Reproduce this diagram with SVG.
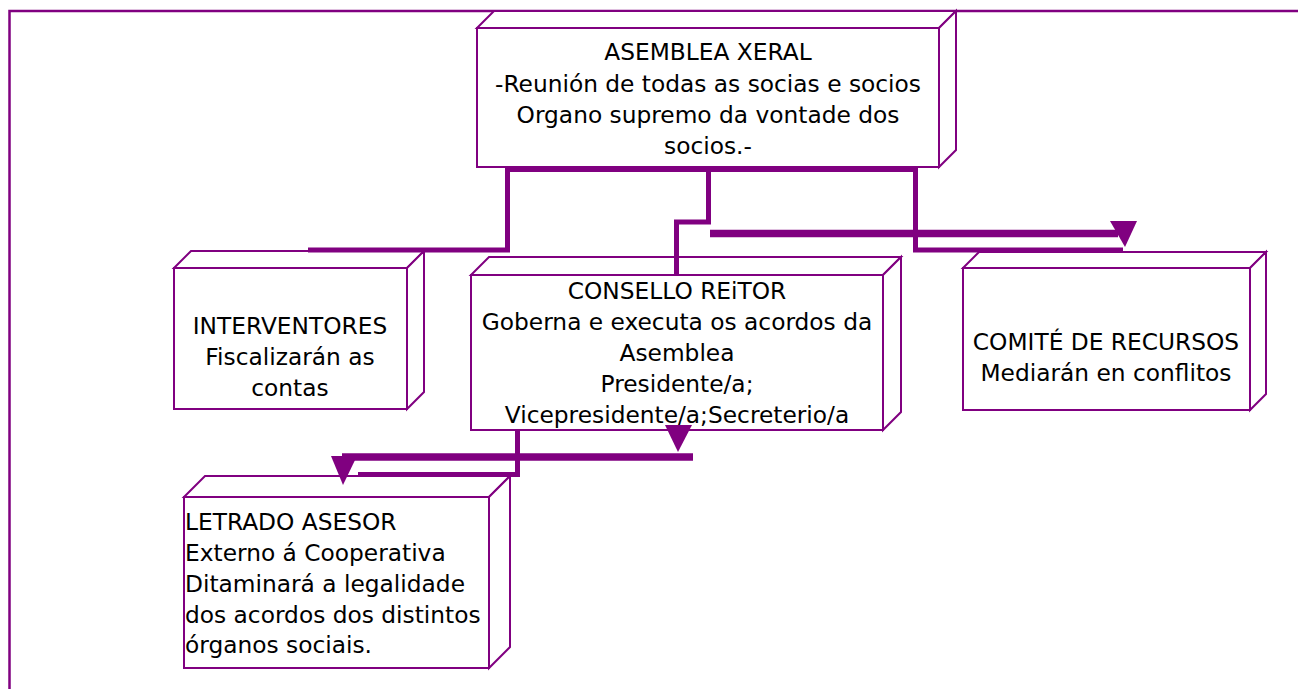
<svg xmlns="http://www.w3.org/2000/svg" width="1298" height="689" viewBox="0 0 1298 689">
<style>
.box{fill:#fff;stroke:#800080;stroke-width:2;stroke-linejoin:miter}
.frame{fill:none;stroke:#800080;stroke-width:2.5}
.conn{fill:none;stroke:#800080;stroke-width:5}
.thick{fill:none;stroke:#800080;stroke-width:7.5}
.head{fill:#800080;stroke:none}
.t{font-family:"DejaVu Sans",Verdana,sans-serif;font-size:23.3px;fill:#000}
.c{text-anchor:middle}
</style>
<rect width="1298" height="689" fill="#fff"/>
<path class="frame" d="M9.5,689 V11 H1298"/>

<g id="asemblea">
<rect class="box" x="477" y="28" width="462" height="139"/>
<polygon class="box" points="477,28 494,11 956,11 939,28"/>
<polygon class="box" points="939,28 956,11 956,150 939,167"/>
<text class="t c" x="708" y="60">ASEMBLEA XERAL</text>
<text class="t c" x="708" y="92">-Reunión de todas as socias e socios</text>
<text class="t c" x="708" y="123">Organo supremo da vontade dos</text>
<text class="t c" x="708" y="154">socios.-</text>
</g>

<g id="interventores">
<rect class="box" x="174" y="268" width="233" height="141"/>
<polygon class="box" points="174,268 191,251 424,251 407,268"/>
<polygon class="box" points="407,268 424,251 424,392 407,409"/>
<text class="t c" x="290" y="334">INTERVENTORES</text>
<text class="t c" x="290" y="365">Fiscalizarán as</text>
<text class="t c" x="290" y="396">contas</text>
</g>

<g id="consello">
<rect class="box" x="471" y="275" width="412" height="155"/>
<polygon class="box" points="471,275 489,257 901,257 883,275"/>
<polygon class="box" points="883,275 901,257 901,412 883,430"/>
<text class="t c" x="677" y="299">CONSELLO REiTOR</text>
<text class="t c" x="677" y="330">Goberna e executa os acordos da</text>
<text class="t c" x="677" y="361">Asemblea</text>
<text class="t c" x="677" y="392">Presidente/a;</text>
<text class="t c" x="677" y="423">Vicepresidente/a;Secreterio/a</text>
</g>

<g id="comite">
<rect class="box" x="963" y="268" width="287" height="142"/>
<polygon class="box" points="963,268 979,252 1266,252 1250,268"/>
<polygon class="box" points="1250,268 1266,252 1266,394 1250,410"/>
<text class="t c" x="1106" y="350">COMITÉ DE RECURSOS</text>
<text class="t c" x="1106" y="381">Mediarán en conflitos</text>
</g>

<g id="letrado">
<rect class="box" x="184" y="497" width="305" height="171"/>
<polygon class="box" points="184,497 205,476 510,476 489,497"/>
<polygon class="box" points="489,497 510,476 510,647 489,668"/>
<text class="t" x="185" y="530">LETRADO ASESOR</text>
<text class="t" x="185" y="561">Externo á Cooperativa</text>
<text class="t" x="185" y="592">Ditaminará a legalidade</text>
<text class="t" x="185" y="623">dos acordos dos distintos</text>
<text class="t" x="185" y="653">órganos sociais.</text>
</g>

<g id="connectors">
<path class="conn" d="M308,250 H507.5 V169.5 H915.5 V250 H1123"/>
<path class="conn" d="M708.5,169.5 V222 H676.5 V275"/>
<path class="thick" d="M710,233.5 H1118"/>
<polygon class="head" points="1110,221 1137,221 1125,247"/>
<path class="conn" d="M517.5,430 V474.5 H358"/>
<path class="thick" d="M693,457 H342"/>
<polygon class="head" points="665,425 692,425 678,452"/>
<polygon class="head" points="331,456 357,456 343,485"/>
</g>
</svg>
